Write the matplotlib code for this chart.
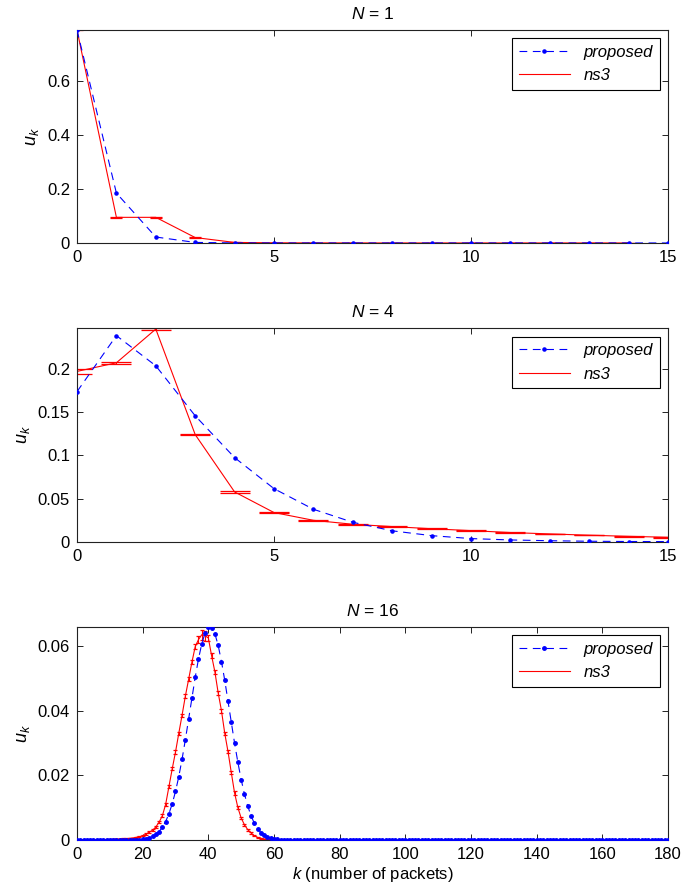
import matplotlib
matplotlib.use('Agg')
import matplotlib.pyplot as plt
from matplotlib.ticker import FormatStrFormatter

plt.rcParams['font.family'] = ['Liberation Sans', 'DejaVu Sans']
plt.rcParams['font.size'] = 12
plt.rcParams['mathtext.fontset'] = 'custom'
plt.rcParams['mathtext.rm'] = 'Liberation Sans'
plt.rcParams['mathtext.it'] = 'Liberation Sans:italic'

# ---- N = 1 ----
k1_prop = list(range(0, 16))
u1_prop = [0.79, 0.185, 0.022, 0.002, 0.0002, 0, 0, 0, 0, 0, 0, 0, 0, 0, 0, 0]
k1_ns3 = list(range(0, 15))
u1_ns3 = [0.79, 0.095, 0.095, 0.020, 0.002, 0.0005, 0.0002, 0.0001, 0, 0, 0, 0, 0, 0, 0]
e1_ns3 = [0.002, 0.0015, 0.0015, 0.001, 0.0005, 0.0002, 0.0001, 0, 0, 0, 0, 0, 0, 0, 0]

# ---- N = 4 ----
k4_prop = list(range(0, 16))
u4_prop = [0.174, 0.239, 0.204, 0.146, 0.0975, 0.0615, 0.0376, 0.0225,
           0.0126, 0.0070, 0.0036, 0.0020, 0.0011, 0.0005, 0.0002, 0.0001]
k4_ns3 = list(range(0, 16))
u4_ns3 = [0.1975, 0.2075, 0.2466, 0.1242, 0.0577, 0.0338, 0.0248, 0.0202,
          0.0175, 0.0150, 0.0128, 0.0106, 0.0090, 0.0075, 0.0062, 0.0051]
e4_ns3 = [0.0025, 0.0012, 0.0010, 0.0008, 0.0008, 0.0008, 0.0006, 0.0005,
          0.0005, 0.0004, 0.0004, 0.0004, 0.0003, 0.0003, 0.0003, 0.0003]

# ---- N = 16 ----
k16_prop = list(range(0, 181))
u16_prop = ([0, 0, 0, 0, 0, 0, 0, 0, 0, 0, 0, 0, 0, 0, 0, 0,
             0.00002, 0.00004, 0.00007, 0.00013, 0.00023, 0.0004, 0.00066, 0.0011,
             0.0017, 0.0026, 0.0039, 0.0057, 0.0081, 0.0112, 0.0150, 0.0196,
             0.0250, 0.0310, 0.0374, 0.0440, 0.0503, 0.0560, 0.0607, 0.0640,
             0.0660, 0.0656, 0.0638, 0.0602, 0.0552, 0.0494, 0.0430, 0.0364,
             0.0299, 0.0240, 0.0187, 0.0142, 0.0105, 0.0075, 0.0052, 0.0035,
             0.0023, 0.0015, 0.0009, 0.00055, 0.00032, 0.00018, 0.0001, 0.00005,
             0.00003, 0.00001]
            + [0, 0, 0, 0, 0, 0, 0, 0, 0, 0, 0, 0, 0, 0, 0, 0, 0, 0, 0, 0,
               0, 0, 0, 0, 0, 0, 0, 0, 0, 0, 0, 0, 0, 0, 0, 0, 0, 0, 0, 0,
               0, 0, 0, 0, 0, 0, 0, 0, 0, 0, 0, 0, 0, 0, 0, 0, 0, 0, 0, 0,
               0, 0, 0, 0, 0, 0, 0, 0, 0, 0, 0, 0, 0, 0, 0, 0, 0, 0, 0, 0,
               0, 0, 0, 0, 0, 0, 0, 0, 0, 0, 0, 0, 0, 0, 0, 0, 0, 0, 0, 0,
               0, 0, 0, 0, 0, 0, 0, 0, 0, 0, 0, 0, 0, 0, 0])
k16_ns3 = list(range(0, 66))
u16_ns3 = [0, 0, 0, 0, 0, 0, 0, 0, 0, 0.00005, 0.0001, 0.0002, 0.0003, 0.0003,
           0.0004, 0.0004, 0.0005, 0.0006, 0.0008, 0.0010, 0.0013, 0.0018,
           0.0024, 0.0030, 0.0040, 0.0055, 0.0075, 0.0110, 0.0165, 0.0220,
           0.0272, 0.0330, 0.0386, 0.0445, 0.0497, 0.0550, 0.0598, 0.0620,
           0.0635, 0.0632, 0.0625, 0.0570, 0.0520, 0.0455, 0.0400, 0.0330,
           0.0273, 0.0208, 0.0145, 0.0100, 0.0068, 0.0047, 0.0032, 0.0022,
           0.0013, 0.0008, 0.0005, 0.0003, 0.0002, 0.0001, 0.0001, 0.00005,
           0, 0, 0, 0]
e16_ns3 = ([0.0001] * 20
           + [0.0002, 0.0002, 0.0003, 0.0003, 0.0003, 0.0004, 0.0004, 0.0004,
              0.0005, 0.0005, 0.0005, 0.0005, 0.0005, 0.0006, 0.0006, 0.0006,
              0.0008, 0.0010, 0.0015, 0.0015, 0.0010, 0.0008, 0.0006, 0.0006,
              0.0006, 0.0005, 0.0005, 0.0005, 0.0005, 0.0004, 0.0004, 0.0003,
              0.0003, 0.0003, 0.0002, 0.0002, 0.0001, 0.0001, 0.0001, 0.0001,
              0.0001, 0.0001, 0.0001, 0.0001, 0.0001, 0.0001])

panels = [
    dict(title='$N$ = 1', kp=k1_prop, up=u1_prop, kn=k1_ns3, un=u1_ns3, en=e1_ns3,
         xlim=(0, 15), ylim=(0, 0.79), xt=[0, 5, 10, 15], yt=[0, 0.2, 0.4, 0.6],
         cap=4, ms=4.5, pos=[0.1124, 0.7264, 0.8628, 0.2399]),
    dict(title='$N$ = 4', kp=k4_prop, up=u4_prop, kn=k4_ns3, un=u4_ns3, en=e4_ns3,
         xlim=(0, 15), ylim=(0, 0.2475), xt=[0, 5, 10, 15], yt=[0, 0.05, 0.1, 0.15, 0.2],
         cap=10.5, ms=4.5, pos=[0.1124, 0.3900, 0.8628, 0.2403]),
    dict(title='$N$ = 16', kp=k16_prop, up=u16_prop, kn=k16_ns3, un=u16_ns3, en=e16_ns3,
         xlim=(0, 180), ylim=(0, 0.066), xt=list(range(0, 181, 20)), yt=[0, 0.02, 0.04, 0.06],
         cap=1.6, ms=5, pos=[0.1124, 0.0541, 0.8628, 0.2402]),
]

fig = plt.figure(figsize=(6.85, 8.88), dpi=100)

for i, p in enumerate(panels):
    ax = fig.add_axes(p['pos'])
    eb = ax.errorbar(p['kn'], p['un'], yerr=p['en'], color='r', lw=0.8,
                     elinewidth=0.8, capsize=p['cap'], capthick=0.9, zorder=2)
    hp, = ax.plot(p['kp'], p['up'], '--', color='b', marker='.', ms=p['ms'],
                  lw=0.8, dashes=(7, 5), zorder=3)
    ax.set_xlim(p['xlim'])
    ax.set_ylim(p['ylim'])
    ax.set_xticks(p['xt'])
    ax.set_yticks(p['yt'])
    ax.yaxis.set_major_formatter(FormatStrFormatter('%g'))
    ax.tick_params(direction='in', top=True, right=True, length=4, width=0.6,
                   labelsize=12, pad=5)
    for s in ax.spines.values():
        s.set_linewidth(0.8)
        s.set_color('#222222')
    ax.set_title(p['title'], fontsize=12.5, pad=8)
    ax.set_ylabel('$u_k$', fontsize=13, labelpad=4)
    leg = ax.legend([hp, eb[0]], ['proposed', 'ns3'], loc='upper right',
                    numpoints=1, handlelength=3.1, fancybox=False,
                    framealpha=1, edgecolor='black', borderaxespad=0.5,
                    prop={'style': 'italic', 'size': 12})
    leg.get_frame().set_linewidth(0.8)
    if i == 2:
        ax.set_xlabel('$k$ (number of packets)', fontsize=12, labelpad=2)

fig.savefig('out.png', dpi=100)
